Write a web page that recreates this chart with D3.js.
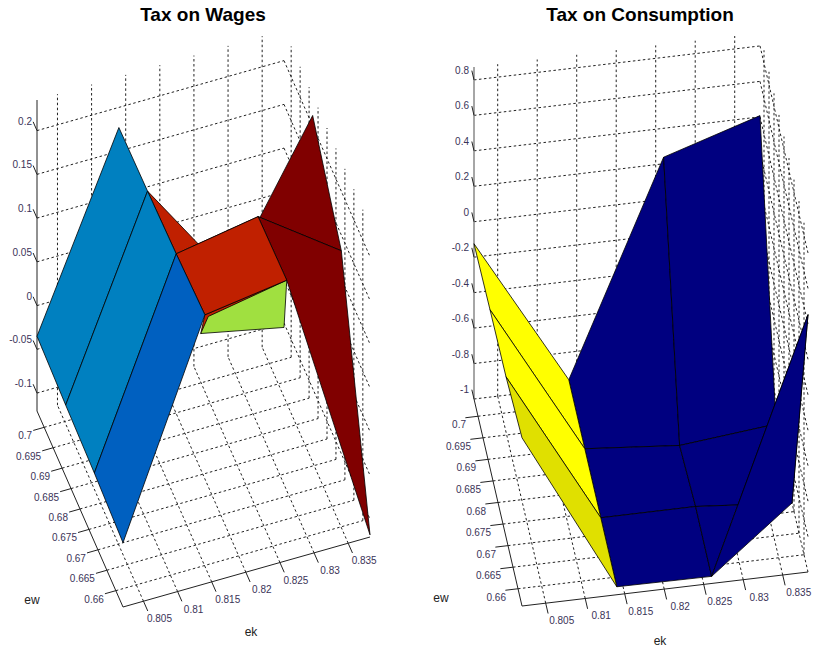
<!DOCTYPE html>
<html><head><meta charset="utf-8">
<script src="https://cdn.jsdelivr.net/npm/d3@7"></script>
<style>html,body{margin:0;padding:0;background:#fff}svg{display:block}</style>
</head><body><svg id="c" width="813" height="652"></svg>
<script>
// ---- data ----
const ekTicks = [0.805,0.81,0.815,0.82,0.825,0.83,0.835];
const ewTicks = [0.66,0.665,0.67,0.675,0.68,0.685,0.69,0.695,0.7];
const ekTickLabels = ["0.805","0.81","0.815","0.82","0.825","0.83","0.835"];
const ewTickLabels = ["0.66","0.665","0.67","0.675","0.68","0.685","0.69","0.695","0.7"];
const wagesZTicks = [-0.1,-0.05,0,0.05,0.1,0.15,0.2];
const wagesZLabels = ["-0.1","-0.05","0","0.05","0.1","0.15","0.2"];
const consZTicks = [-1,-0.8,-0.6,-0.4,-0.2,0,0.2,0.4,0.6,0.8];
const consZLabels = ["-1","-0.8","-0.6","-0.4","-0.2","0","0.2","0.4","0.6","0.8"];
const ekGrid = [0.802,0.814,0.826,0.8382];
const ewGrid = [0.656,0.672,0.688,0.704];
// surface heights: rows follow ewGrid, columns follow ekGrid
const wagesZ = [
  [-0.047,0.187,0.200,-0.118],
  [-0.042,0.182,0.198,0.132],
  [-0.039,0.179,0.055,0.212],
  [-0.035,0.177,-0.085,-0.105]];
const consZ = [
  [-0.051,-0.955,-0.960,0.452],
  [-0.096,-0.955,-0.955,-1.000],
  [-0.107,-0.955,-1.000,-0.944],
  [-0.124,-0.955,0.237,0.407]];
// extra vertex of the green facet [ek, ew, z]
const wagesGreenCorner = [0.8145,0.656,0.184];
// facets as [ewIndex, ekIndex] corners, in paint order
const wagesFacets = [
  [[0,1],[0,2],[3,2]],
  [wagesGreenCorner,[0,2],[3,3],[3,2]],
  [[1,1],[1,2],[2,2],[2,1]],
  [[2,2],[2,3],[1,3],[1,2]],
  [[1,2],[1,3],[0,3],[0,2]],
  [[0,1],[0,2],[1,2],[1,1]],
  [[2,0],[3,0],[3,1],[2,1]],
  [[1,0],[2,0],[2,1],[1,1]],
  [[0,0],[1,0],[1,1],[0,1]]];
const wagesColors = ["#c02000","#a0e040","#c02000","#800000","#800000","#c02000","#0080c0","#0080c0","#0060c0"];
const consFacets = [
  [[2,1],[3,1],[3,2],[2,2]],
  [[2,2],[3,2],[3,3],[2,3]],
  [[1,1],[2,1],[2,2],[1,2]],
  [[1,2],[2,2],[2,3],[1,3]],
  [[0,1],[1,1],[1,2],[0,2]],
  [[0,2],[1,2],[1,3],[0,3]],
  [[0,2],[0,3],[1,3]],
  [[2,0],[3,0],[3,1],[2,1]],
  [[1,0],[2,0],[2,1],[1,1]],
  [[0,0],[1,0],[1,1],[0,1]]];
const consColors = ["#000080","#000080","#000080","#000080","#000080","#000080","#000080","#ffff00","#ffff00","#e0e000"];

// ---- projection: orthographic view built from three linear scales ----
const svg = d3.select("#c");
const FONT = "'Liberation Sans',Arial,sans-serif";
const path = d3.line();

function panel(o){
  const g = svg.append("g");
  const ekX = d3.scaleLinear().domain([0.802,0.8382]).range([0,o.ek[0]]);
  const ekY = d3.scaleLinear().domain([0.802,0.8382]).range([0,o.ek[1]]);
  const ewX = d3.scaleLinear().domain([0.656,0.704]).range([0,o.ew[0]]);
  const ewY = d3.scaleLinear().domain([0.656,0.704]).range([0,o.ew[1]]);
  const zY = d3.scaleLinear().domain(o.zDomain).range([0,o.zPx]);
  const P = (ek,ew,z)=>[o.origin[0]+ekX(ek)+ewX(ew), o.origin[1]+ekY(ek)+ewY(ew)+zY(z)];
  const [ek0,ek1]=ekX.domain(), [ew0,ew1]=ewX.domain(), [z0,z1]=zY.domain();

  const seg=(a,b,dashed,stroke,w)=>g.append("path").attr("d",path([a,b])).attr("fill","none")
    .attr("stroke",stroke||"#000").attr("stroke-width",w||1)
    .attr("stroke-dasharray",dashed?"2.5,2.5":null);
  const DASH="#222";
  // grid
  ekTicks.forEach(t=>{
    seg(P(t,ew0,z0),P(t,ew1,z0),true,DASH);
    seg(P(t,ew1,z0),P(t,ew1,z1),true,DASH);
  });
  ewTicks.forEach(t=>{
    seg(P(ek0,t,z0),P(ek1,t,z0),true,DASH);
    seg(P(ek1,t,z0),P(ek1,t,z1),true,DASH);
  });
  o.zTicks.forEach(t=>{
    seg(P(ek0,ew1,t),P(ek1,ew1,t),true,DASH);
    seg(P(ek1,ew1,t),P(ek1,ew0,t),true,DASH);
  });
  // axes
  seg(P(ek0,ew1,z0),P(ek0,ew1,z1),false,o.zAxisColor,o.zAxisWidth);
  seg(P(ek0,ew0,z0),P(ek1,ew0,z0),false,"#222");
  seg(P(ek0,ew0,z0),P(ek0,ew1,z0),false,"#222");
  // ticks
  const ewStep=0.0024, ekStep=0.0016;
  ekTicks.forEach((t,i)=>{
    const a=P(t,ew0,z0), b=P(t,ew0-ewStep,z0);
    seg(a,b,false,"#222");
    g.append("text").attr("x",a[0]+16).attr("y",a[1]+21).attr("text-anchor","middle").text(ekTickLabels[i]);
  });
  ewTicks.forEach((t,i)=>{
    const a0=P(ek0,t,z0), b=P(ek0-ekStep,t,z0);
    seg(a0,b,false,"#222");
    g.append("text").attr("x",a0[0]-12).attr("y",a0[1]+12).attr("text-anchor","end").text(ewTickLabels[i]);
  });
  o.zTicks.forEach((t,i)=>{
    const a=P(ek0,ew1,t), b=P(ek0,ew1+ewStep*0.9,t);
    seg(a,b,false,"#222");
    g.append("text").attr("x",a[0]-5).attr("y",a[1]-6).attr("text-anchor","end").text(o.zLabels[i]);
  });
  g.selectAll("text").attr("font-family",FONT).attr("font-size",10).attr("fill","#3a3358");
  // surface
  o.facets.forEach((f,i)=>{
    const pts=f.map(v=>v.length===3?P(v[0],v[1],v[2]):P(ekGrid[v[1]],ewGrid[v[0]],o.z[v[0]][v[1]]));
    g.append("path").attr("d",path(pts)+"Z").attr("fill",o.colors[i])
      .attr("stroke","#000").attr("stroke-width",0.8).attr("stroke-linejoin","round");
  });
  // labels
  const lab=(x,y,t)=>g.append("text").attr("x",x).attr("y",y).attr("text-anchor","middle")
    .attr("font-family",FONT).attr("font-size",12).attr("fill","#222").text(t);
  lab(o.ewLabel[0],o.ewLabel[1],"ew");
  lab(o.ekLabel[0],o.ekLabel[1],"ek");
  g.append("text").attr("x",o.titleX).attr("y",21).attr("text-anchor","middle")
    .attr("font-family",FONT).attr("font-weight","bold").attr("font-size",19).attr("fill","#000").text(o.title);
}

panel({title:"Tax on Wages",titleX:203,origin:[123,607],ek:[247,-70],ew:[-86,-196],
  zDomain:[-0.1205,0.235],zPx:-311,zTicks:wagesZTicks,zLabels:wagesZLabels,z:wagesZ,
  facets:wagesFacets,colors:wagesColors,zAxisColor:"#222",zAxisWidth:1,
  ewLabel:[32,604],ekLabel:[251,636]});
panel({title:"Tax on Consumption",titleX:640,origin:[522,606],ek:[286,-34],ew:[-48,-207],
  zDomain:[-1,0.873],zPx:-332,zTicks:consZTicks,zLabels:consZLabels,z:consZ,
  facets:consFacets,colors:consColors,zAxisColor:"#888",zAxisWidth:1.5,
  ewLabel:[441,602],ekLabel:[660,645]});
</script></body></html>
